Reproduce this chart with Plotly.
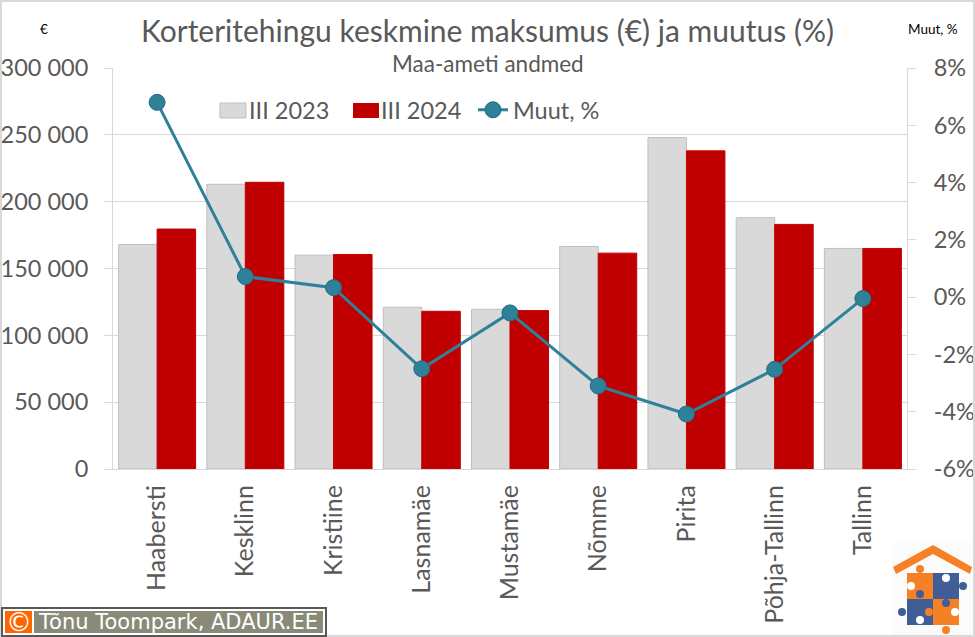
import plotly.graph_objects as go

TITLE = 'Korteritehingu keskmine maksumus (€) ja muutus (%)'
SUBTITLE = 'Maa-ameti andmed'
CREDIT = 'Tõnu Toompark, ADAUR.EE'

districts = ['Haabersti', 'Kesklinn', 'Kristiine', 'Lasnamäe', 'Mustamäe',
             'Nõmme', 'Pirita', 'Põhja-Tallinn', 'Tallinn']
price_2023 = [168000, 213000, 160000, 121000, 119500, 166500, 248000, 188000, 165000]
price_2024 = [179500, 214500, 160500, 118000, 118500, 161500, 238000, 183000, 165000]
change_pct = [6.8, 0.72, 0.33, -2.5, -0.55, -3.1, -4.08, -2.52, -0.05]

pct_ticks = [-6, -4, -2, 0, 2, 4, 6, 8]
pct_labels = ['-6%', '-4%', '-2%', '0%', '2%', '4%', '6%', '8%']

W, H = 975, 637
L, R, T, B = 113, 907, 68, 469

TEXT = '#595959'
GRID = '#D9D9D9'
TEAL = '#2E8199'
FONT = 'Lato'


# paper coordinates are relative to the plot area
def px(x):
    return (x - L) / (R - L)


def py(y):
    return (B - y) / (B - T)


def box(x0, y0, x1, y1, fill, line=None):
    return dict(type='rect', xref='paper', yref='paper', x0=px(x0), x1=px(x1), y0=py(y1), y1=py(y0),
                line=line or dict(width=0), fillcolor=fill)


fig = go.Figure()
fig.add_trace(go.Bar(x=districts, y=price_2023, name='III 2023',
                     marker=dict(color='#D9D9D9', line=dict(color='#BFBFBF', width=1))))
fig.add_trace(go.Bar(x=districts, y=price_2024, name='III 2024',
                     marker=dict(color='#C00000', line=dict(color='#C00000', width=1))))
fig.add_trace(go.Scatter(x=districts, y=change_pct, name='Muut, %', yaxis='y2',
                         mode='lines+markers',
                         line=dict(color=TEAL, width=3),
                         marker=dict(color=TEAL, size=16, line=dict(color='#256A80', width=1))))

shapes = [
    # frame of the picture
    box(1, 1, 974, 636, 'rgba(0,0,0,0)', dict(color='#D9D9D9', width=2)),
    # the subtitle box hides the top gridline
    box(137, 50, 838, 76, 'white'),
    # the legend keys are wider than plotly draws them
    box(220, 103, 246, 118, '#D9D9D9', dict(color='#BFBFBF', width=1)),
    box(353, 103, 379, 118, '#C00000'),
    # credit box
    box(2, 608, 326, 636, 'white', dict(color='#595959', width=2)),
    box(5, 611, 32, 633, '#FF6600'),
    box(34, 611, 323, 633, '#8A8A78'),
]

# puzzle house logo, rough
ORANGE = '#F58026'
BLUE = '#3F5E96'
shapes.append(box(892, 543, 973, 635, '#FBFBFB'))
shapes.append(dict(type='path', xref='paper', yref='paper',
                   path='M {} {} L {} {} L {} {} L {} {} L {} {} L {} {} Z'.format(
                       px(893), py(567), px(933), py(545), px(972), py(567),
                       px(970), py(574), px(933), py(554), px(896), py(574)),
                   line=dict(width=0), fillcolor=ORANGE))
for x0, y0, color in [(907, 573, ORANGE), (933, 573, BLUE), (907, 599, BLUE), (933, 599, ORANGE)]:
    shapes.append(box(x0, y0, x0 + 26, y0 + 26, color))
for cx, cy, color in [(920, 569, ORANGE), (963, 586, BLUE), (920, 594, BLUE), (902, 612, BLUE),
                      (946, 603, BLUE), (946, 630, ORANGE), (911, 586, 'white'), (946, 578, 'white'),
                      (929, 612, ORANGE), (920, 620, 'white'), (955, 612, 'white')]:
    shapes.append(dict(type='circle', xref='paper', yref='paper', x0=px(cx - 4), x1=px(cx + 4),
                       y0=py(cy + 4), y1=py(cy - 4), line=dict(width=0), fillcolor=color))

annotations = [
    dict(text=TITLE, x=px(487.5), y=py(30), font=dict(size=30, color=TEXT)),
    dict(text=SUBTITLE, x=px(488), y=py(64), font=dict(size=22.5, color=TEXT)),
    dict(text='€', x=px(44), y=py(29), font=dict(size=13.5, color='black')),
    dict(text='Muut, %', x=px(933), y=py(29), font=dict(size=13.5, color='black')),
    dict(text='©', x=px(18.5), y=py(622), font=dict(size=26, color='white', family='DejaVu Sans')),
    dict(text=CREDIT, x=px(178), y=py(622), font=dict(size=21, color='white', family='DejaVu Sans')),
]
for a in annotations:
    a.update(xref='paper', yref='paper', showarrow=False, xanchor='center', yanchor='middle')

fig.update_layout(
    width=W, height=H,
    margin=dict(l=L, r=W - R, t=T, b=H - B, pad=0),
    paper_bgcolor='white', plot_bgcolor='white',
    font=dict(family=FONT, color=TEXT),
    separators=', ',
    barmode='group', bargap=0.127, bargroupgap=0,
    shapes=shapes, annotations=annotations,
    showlegend=True,
    legend=dict(orientation='h', x=px(209), y=py(88), xanchor='left', yanchor='top',
                font=dict(size=23.5, color=TEXT), bgcolor='rgba(0,0,0,0)', itemwidth=30,
                entrywidth=87, entrywidthmode='pixels'),
    xaxis=dict(type='category', range=[-0.5, 8.5], tickangle=-90, tickfont=dict(size=25, color=TEXT),
               ticks='', ticklabelstandoff=5, automargin=False,
               showline=True, linecolor=GRID, linewidth=1, showgrid=False),
    yaxis=dict(range=[0, 300000], dtick=50000, tickformat=',d', automargin=False,
               tickfont=dict(size=23.5, color=TEXT), ticks='outside', ticklen=8, tickcolor=GRID,
               ticklabelstandoff=11,
               showline=True, linecolor=GRID, showgrid=True, gridcolor=GRID, zeroline=False),
    yaxis2=dict(range=[-6, 8], overlaying='y', side='right', tickvals=pct_ticks, ticktext=pct_labels,
                tickfont=dict(size=23.5, color=TEXT), ticks='outside', ticklen=8, tickcolor=GRID,
                ticklabelstandoff=13, automargin=False,
                showline=True, linecolor=GRID, showgrid=False, zeroline=False),
)

# drop the outline of plotly's small legend key, it shows inside the wider one
POST = """
document.body.style.margin='0';document.body.style.overflow='hidden';
setTimeout(function(){
  var key=document.querySelector('.legend .legendpoints path');
  if(key){key.style.strokeWidth='0';}
},50);
"""

fig.write_html('out.html', config=dict(displayModeBar=False), post_script=POST)
